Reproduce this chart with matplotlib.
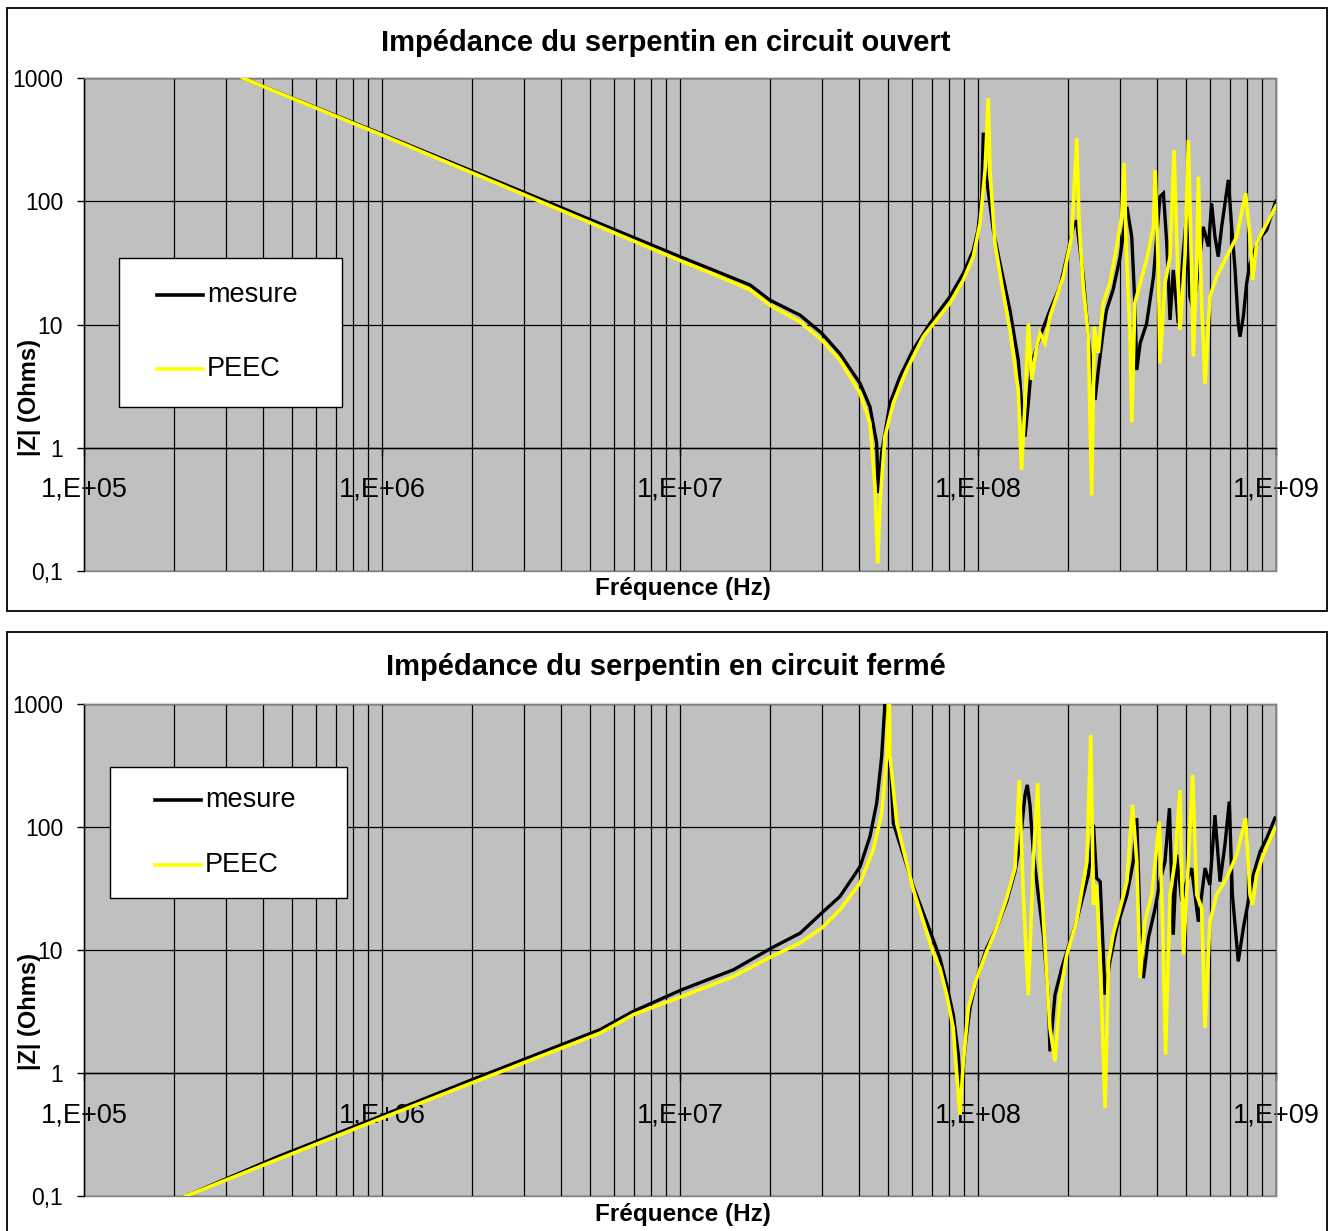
import matplotlib
matplotlib.use('Agg')
import matplotlib.pyplot as plt
from matplotlib.ticker import FixedLocator, FixedFormatter, LogLocator, NullFormatter
from matplotlib.patches import Rectangle
from matplotlib.lines import Line2D

plt.rcParams['font.family'] = ['Liberation Sans', 'DejaVu Sans']

# ---------------- data ----------------
titles = ['Impédance du serpentin en circuit ouvert',
          'Impédance du serpentin en circuit fermé']
series_names = ['mesure', 'PEEC']
x_label = 'Fréquence (Hz)'
y_label = '|Z| (Ohms)'
x_ticks = [1e5, 1e6, 1e7, 1e8, 1e9]
x_tick_labels = ['1,E+05', '1,E+06', '1,E+07', '1,E+08', '1,E+09']
y_ticks = [0.1, 1, 10, 100, 1000]
y_tick_labels = ['0,1', '1', '10', '100', '1000']

# open circuit (top chart)
open_mesure_freq = [3.4e5, 1.0e6, 3.0e6, 1.0e7, 1.3e7, 1.72e7, 2.0e7, 2.53e7, 2.99e7, 3.44e7, 4.02e7,
                    4.34e7, 4.57e7, 4.63e7, 4.75e7, 5.07e7, 5.47e7, 6.05e7, 6.9e7, 8.05e7, 8.93e7,
                    9.64e7, 1.0e8, 1.029e8, 1.042e8, 1.07e8, 1.125e8, 1.185e8, 1.28e8, 1.365e8, 1.40e8,
                    1.438e8, 1.475e8, 1.514e8, 1.614e8, 1.744e8, 1.884e8, 2.01e8, 2.088e8, 2.14e8, 2.256e8,
                    2.345e8, 2.407e8, 2.47e8, 2.534e8, 2.634e8, 2.70e8, 2.84e8, 3.0e8, 3.16e8, 3.28e8,
                    3.36e8, 3.41e8, 3.50e8, 3.68e8, 3.88e8, 4.08e8, 4.19e8, 4.30e8, 4.41e8, 4.52e8,
                    4.70e8, 4.89e8, 5.01e8, 5.14e8, 5.28e8, 5.49e8, 5.70e8, 5.93e8, 6.08e8, 6.24e8,
                    6.40e8, 6.57e8, 6.92e8, 7.10e8, 7.29e8, 7.47e8, 7.57e8, 7.77e8, 7.97e8, 8.18e8,
                    8.72e8, 9.31e8, 9.92e8, 1.0e9]
open_mesure_z = [1000, 351, 118, 35.5, 27.5, 20.9, 15.8, 11.9, 8.5, 5.8, 3.33,
                 2.15, 1.09, 0.43, 0.91, 2.31, 3.77, 6.2, 10.2, 16.8, 26,
                 40, 58.5, 109, 360, 149, 58.5, 31.4, 13.1, 5.15, 2.3,
                 1.23, 2.3, 4.84, 7.96, 13.1, 20.3, 40, 62, 70, 24.4,
                 7.96, 4.27, 2.44, 4.27, 9.0, 13.1, 19.1, 35.5, 90, 51.6,
                 14.9, 4.27, 7.04, 10.2, 24.4, 109, 116, 45.6, 10.9, 27.7,
                 10.2, 40, 74.9, 16.8, 13.1, 27.7, 62, 42.8, 96, 51.6,
                 35.5, 62, 149, 62, 27.7, 10.2, 7.96, 11.6, 21.6, 31.4,
                 48.5, 58.5, 96, 100]

open_peec_freq = [3.4e5, 1.0e6, 3.0e6, 1.0e7, 1.3e7, 1.72e7, 2.0e7, 2.53e7, 2.99e7, 3.44e7, 4.02e7,
                  4.34e7, 4.51e7, 4.61e7, 4.69e7, 4.87e7, 5.2e7, 5.76e7, 6.55e7, 8.05e7, 8.93e7,
                  9.64e7, 1.016e8, 1.056e8, 1.083e8, 1.097e8, 1.14e8, 1.2e8, 1.28e8, 1.365e8, 1.40e8,
                  1.438e8, 1.475e8, 1.514e8, 1.574e8, 1.614e8, 1.678e8, 1.744e8, 1.933e8, 2.063e8, 2.144e8,
                  2.187e8, 2.256e8, 2.345e8, 2.407e8, 2.457e8, 2.534e8, 2.634e8, 2.77e8, 2.92e8, 3.035e8,
                  3.09e8, 3.14e8, 3.24e8, 3.28e8, 3.36e8, 3.50e8, 3.68e8, 3.88e8, 3.93e8, 4.03e8,
                  4.08e8, 4.24e8, 4.41e8, 4.55e8, 4.64e8, 4.76e8, 4.95e8, 5.08e8, 5.21e8, 5.28e8,
                  5.42e8, 5.49e8, 5.63e8, 5.78e8, 6.0e8, 6.32e8, 6.83e8, 7.38e8, 7.91e8, 8.18e8,
                  8.35e8, 8.61e8, 9.07e8, 1.0e9]
open_peec_z = [1000, 345, 113, 33, 25.5, 19.1, 14.4, 10.5, 7.48, 5.15, 2.77,
               1.58, 0.48, 0.115, 0.356, 1.23, 2.31, 4.27, 7.96, 14.9, 23,
               35.5, 66.2, 179, 684, 179, 45.6, 21.6, 9.0, 2.94, 0.66,
               2.3, 10.2, 3.55, 6.6, 8.5, 7.08, 11.6, 24.4, 51.6, 324,
               62, 20.3, 7.96, 0.41, 9.6, 5.87, 15.0, 21.6, 42.8, 75,
               204, 45.6, 7.96, 1.6, 14.9, 21.6, 33.4, 62, 179, 27.7,
               4.84, 21.6, 35.5, 261, 51.6, 9.0, 35.5, 314, 27.7, 5.5,
               31.4, 158, 14.9, 3.3, 16.8, 24.4, 35.5, 51.6, 116, 51.6,
               23, 45.6, 58.5, 91.5]

# closed circuit (bottom chart)
closed_mesure_freq = [2.2e5, 4.5e5, 1.0e6, 2.0e6, 5.39e6, 6.97e6, 1.013e7, 1.51e7, 2.03e7, 2.53e7,
                      2.99e7, 3.44e7, 4.02e7, 4.34e7, 4.57e7, 4.75e7, 4.87e7, 4.93e7, 5.2e7, 6.07e7,
                      7.08e7, 7.45e7, 7.85e7, 8.26e7, 8.59e7, 8.75e7, 9.04e7, 9.4e7, 9.9e7, 1.07e8,
                      1.155e8, 1.248e8, 1.331e8, 1.383e8, 1.438e8, 1.463e8, 1.494e8, 1.533e8, 1.593e8, 1.656e8,
                      1.721e8, 1.744e8, 1.813e8, 1.91e8, 2.035e8, 2.14e8, 2.256e8, 2.345e8, 2.44e8, 2.50e8,
                      2.57e8, 2.67e8, 2.77e8, 2.92e8, 3.16e8, 3.32e8, 3.41e8, 3.50e8, 3.59e8, 3.73e8,
                      3.93e8, 4.08e8, 4.24e8, 4.39e8, 4.52e8, 4.64e8, 4.83e8, 5.01e8, 5.21e8, 5.49e8,
                      5.78e8, 6.0e8, 6.24e8, 6.49e8, 6.74e8, 6.97e8, 7.14e8, 7.47e8, 7.77e8, 8.07e8,
                      8.39e8, 8.84e8, 9.31e8, 9.92e8]
closed_mesure_z = [0.1, 0.21, 0.45, 0.88, 2.25, 3.17, 4.75, 6.9, 10.4, 13.7,
                   20, 27.2, 47.6, 83.6, 156, 373, 1000, 1500, 107, 32.8,
                   12.1, 8.6, 5.2, 2.98, 1.41, 0.67, 1.6, 3.37, 5.91, 10.4,
                   15.1, 24.8, 43.4, 71.6, 182, 220, 151, 63, 28.1, 13.3,
                   4.33, 1.5, 4.33, 7.13, 11.7, 17.0, 28.1, 40.8, 104, 38.4,
                   36, 4.33, 8.07, 15.1, 28.1, 52.4, 118, 15.1, 5.91, 12.5,
                   21.9, 36, 52.4, 142, 13.3, 59.4, 24.8, 36, 46.3, 17.0,
                   46.3, 33.9, 125, 36, 71.6, 161, 28.1, 8.07, 15.1, 24.8,
                   40.8, 63, 81, 118]

closed_peec_freq = [2.2e5, 4.5e5, 1.0e6, 2.0e6, 5.39e6, 6.97e6, 1.013e7, 1.51e7, 2.03e7, 2.53e7,
                    2.99e7, 3.44e7, 4.02e7, 4.45e7, 4.75e7, 4.94e7, 5.0e7, 5.03e7, 5.07e7, 5.34e7,
                    6.07e7, 7.08e7, 7.45e7, 7.85e7, 8.26e7, 8.59e7, 8.70e7, 8.93e7, 9.28e7, 9.9e7,
                    1.07e8, 1.155e8, 1.248e8, 1.331e8, 1.376e8, 1.419e8, 1.475e8, 1.533e8, 1.586e8, 1.614e8,
                    1.678e8, 1.744e8, 1.813e8, 1.884e8, 1.985e8, 2.14e8, 2.32e8, 2.39e8, 2.44e8, 2.50e8,
                    2.57e8, 2.67e8, 2.74e8, 2.84e8, 3.0e8, 3.16e8, 3.30e8, 3.41e8, 3.50e8, 3.63e8,
                    3.83e8, 4.06e8, 4.17e8, 4.26e8, 4.41e8, 4.58e8, 4.76e8, 4.89e8, 5.08e8, 5.25e8,
                    5.42e8, 5.63e8, 5.78e8, 6.0e8, 6.32e8, 6.83e8, 7.38e8, 7.91e8, 8.18e8, 8.35e8,
                    8.61e8, 9.07e8, 9.92e8]
closed_peec_z = [0.1, 0.2, 0.43, 0.83, 2.11, 2.98, 4.19, 6.09, 8.85, 11.4,
                 15.1, 21.2, 35, 65.2, 129, 373, 1000, 1300, 373, 107,
                 30.8, 9.44, 7.13, 4.33, 2.32, 0.67, 0.46, 1.24, 3.37, 5.91,
                 9.73, 15.1, 26.4, 46.3, 241, 28.1, 4.3, 52.4, 227, 52.4,
                 11.0, 2.32, 1.24, 4.33, 9.14, 17.0, 52.4, 560, 23.3, 33.9,
                 8.07, 0.52, 8.07, 13.3, 21.9, 36, 151, 52.4, 5.91, 17.0,
                 28.1, 111, 15.1, 1.41, 28.1, 52.4, 200, 9.14, 52.4, 265,
                 28.1, 21.9, 2.32, 17.0, 28.1, 38.4, 59.4, 118, 28.1, 23.3,
                 40.8, 59.4, 98]

# ---------------- layout (pixels of the 1329x1231 picture) ----------------
W, H = 1329, 1231
fig = plt.figure(figsize=(W / 100, H / 100), dpi=100)

panels = [
    dict(title=titles[0], axes=(84, 78, 1276, 571), frame=(7, 8, 1327, 611),
         legend=(119, 258, 342, 407), leg_line=(157, 203), leg_rows=(295, 369),
         title_y=43, xlabel_y=589, ylabel_y=398,
         series=[(open_mesure_freq, open_mesure_z), (open_peec_freq, open_peec_z)]),
    dict(title=titles[1], axes=(84, 704, 1276, 1196), frame=(7, 632, 1327, 1240),
         legend=(110, 767, 347, 898), leg_line=(155, 201), leg_rows=(800, 865),
         title_y=667, xlabel_y=1214, ylabel_y=1012,
         series=[(closed_mesure_freq, closed_mesure_z), (closed_peec_freq, closed_peec_z)]),
]

colors = ['#000000', '#FFFF00']
widths = [2.4, 2.6]

for p in panels:
    l, t, r, b = p['axes']
    ax = fig.add_axes([l / W, 1 - b / H, (r - l) / W, (b - t) / H])
    fx = lambda px: (px - l) / (r - l)
    fy = lambda py: (b - py) / (b - t)

    # frame around the whole chart
    fl, ft, fr, fb = p['frame']
    fig.add_artist(Rectangle((fl / W, 1 - fb / H), (fr - fl) / W, (fb - ft) / H,
                             transform=fig.transFigure, fill=False, ec='black', lw=1.3))

    ax.set_facecolor('#C0C0C0')
    ax.patch.set_edgecolor('#808080')
    ax.patch.set_linewidth(1.0)
    ax.set_xscale('log')
    ax.set_yscale('log')
    ax.set_xlim(x_ticks[0], x_ticks[-1])
    ax.set_ylim(y_ticks[0], y_ticks[-1])

    for (fq, zz), c, lw in zip(p['series'], colors, widths):
        ax.plot(fq, zz, color=c, lw=lw, solid_joinstyle='miter', zorder=3)

    ax.xaxis.set_major_locator(FixedLocator(x_ticks))
    ax.xaxis.set_major_formatter(FixedFormatter(x_tick_labels))
    ax.xaxis.set_minor_locator(LogLocator(base=10, subs=range(2, 10), numticks=20))
    ax.xaxis.set_minor_formatter(NullFormatter())
    ax.yaxis.set_major_locator(FixedLocator(y_ticks))
    ax.yaxis.set_major_formatter(FixedFormatter(y_tick_labels))
    ax.yaxis.set_minor_locator(FixedLocator([]))

    ax.grid(which='major', axis='both', color='black', lw=0.9, zorder=1)
    ax.grid(which='minor', axis='x', color='black', lw=0.9, zorder=1)

    ax.spines['bottom'].set_position(('data', 1))
    ax.spines['bottom'].set_color('black')
    ax.spines['left'].set_color('black')
    ax.spines['top'].set_color('#808080')
    ax.spines['right'].set_color('#808080')
    for s in ax.spines.values():
        s.set_linewidth(1.0)

    ax.tick_params(axis='x', which='major', direction='out', length=6, width=1,
                   labelsize=19.5, pad=15, colors='black')
    ax.tick_params(axis='x', which='minor', length=0)
    ax.tick_params(axis='y', which='major', direction='out', length=5, width=1,
                   labelsize=16.5, pad=10, colors='black')

    ax.set_xlabel(x_label, fontsize=17.5, fontweight='bold')
    ax.xaxis.set_label_coords(fx(683), fy(p['xlabel_y']))
    ax.xaxis.label.set_va('center')
    ax.set_ylabel(y_label, fontsize=17, fontweight='bold')
    ax.yaxis.set_label_coords(fx(41), fy(p['ylabel_y']))

    ax.text(fx(666), fy(p['title_y']), p['title'], transform=ax.transAxes,
            ha='center', va='center', fontsize=21, fontweight='bold')

    # legend box
    ll, lt, lr, lb = p['legend']
    ax.add_patch(Rectangle((fx(ll), fy(lb)), fx(lr) - fx(ll), fy(lt) - fy(lb),
                           transform=ax.transAxes, facecolor='white', edgecolor='black',
                           lw=1.0, zorder=5, clip_on=False))
    x0, x1 = p['leg_line']
    for name, c, ry in zip(series_names, colors, p['leg_rows']):
        ax.add_line(Line2D([fx(x0), fx(x1)], [fy(ry), fy(ry)], transform=ax.transAxes,
                           color=c, lw=2.6, zorder=6, clip_on=False))
        ax.text(fx(x1 + 4), fy(ry), name, transform=ax.transAxes, ha='left', va='center',
                fontsize=19.5, zorder=7)

fig.savefig('out.png', dpi=100)
